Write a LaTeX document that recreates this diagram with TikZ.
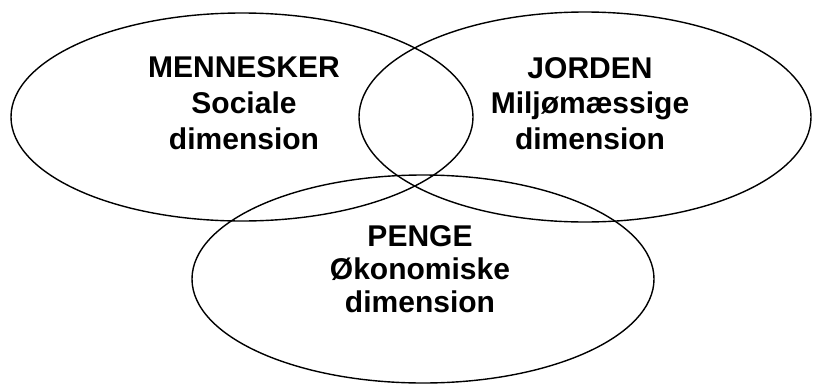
\documentclass[tikz,border=0pt]{standalone}
\usepackage{fontspec}
\setmainfont{Liberation Sans}
\usetikzlibrary{shapes.geometric}
\begin{document}
\begin{tikzpicture}[x=1pt,y=-1pt,
  ring/.style={draw=black,line width=1.4pt,ellipse,inner sep=0pt},
  lbl/.style={anchor=base,inner sep=0pt,font=\fontsize{30}{36}\selectfont\bfseries}]
\useasboundingbox (0,0) rectangle (813,383);
\node[ring,minimum width=462pt,minimum height=208pt] (left) at (242,117) {};
\node[ring,minimum width=452pt,minimum height=210pt] (right) at (585,117) {};
\node[ring,minimum width=462pt,minimum height=208pt] (bottom) at (423,279) {};
\node[lbl] (m1) at (244,77) {MENNESKER};
\node[lbl] (m2) at (244,113) {Sociale};
\node[lbl] (m3) at (244,149) {dimension};
\node[lbl] (j1) at (590,78) {JORDEN};
\node[lbl] (j2) at (590,113) {Miljømæssige};
\node[lbl] (j3) at (590,149) {dimension};
\node[lbl] (p1) at (420,246) {PENGE};
\node[lbl] (p2) at (420,279) {Økonomiske};
\node[lbl] (p3) at (420,312) {dimension};
\end{tikzpicture}
\end{document}
